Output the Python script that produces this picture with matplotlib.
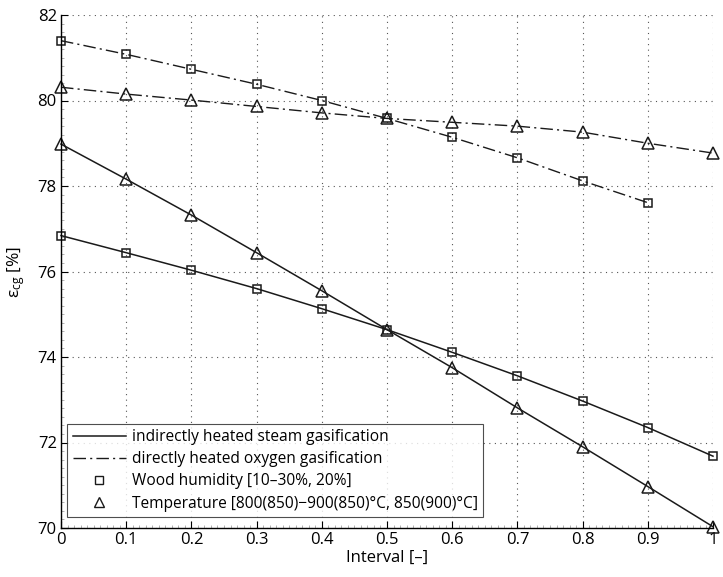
import matplotlib
matplotlib.use("Agg")
import matplotlib.pyplot as plt
from matplotlib.lines import Line2D
from matplotlib.ticker import MultipleLocator

plt.rcParams['font.family'] = ['Open Sans', 'DejaVu Sans']
plt.rcParams['mathtext.fontset'] = 'custom'
plt.rcParams['mathtext.rm'] = 'Open Sans'
plt.rcParams['mathtext.it'] = 'Open Sans'

interval = [0.0, 0.1, 0.2, 0.3, 0.4, 0.5, 0.6, 0.7, 0.8, 0.9, 1.0]
indirect_humidity = [76.84, 76.44, 76.03, 75.60, 75.13, 74.64, 74.11, 73.56, 72.97, 72.35, 71.68]
indirect_temperature = [78.98, 78.16, 77.32, 76.44, 75.55, 74.64, 73.75, 72.81, 71.90, 70.97, 70.03]
direct_humidity_x = [0.0, 0.1, 0.2, 0.3, 0.4, 0.5, 0.6, 0.7, 0.8, 0.9]
direct_humidity = [81.40, 81.08, 80.73, 80.38, 80.00, 79.58, 79.14, 78.66, 78.12, 77.61]
direct_temperature = [80.31, 80.15, 80.01, 79.86, 79.71, 79.58, 79.49, 79.40, 79.26, 79.00, 78.77]

xticks = [0, 0.1, 0.2, 0.3, 0.4, 0.5, 0.6, 0.7, 0.8, 0.9, 1]
xticklabels = ['0', '0.1', '0.2', '0.3', '0.4', '0.5', '0.6', '0.7', '0.8', '0.9', '1']
yticks = [70, 72, 74, 76, 78, 80, 82]

legend_labels = ['indirectly heated steam gasification',
                 'directly heated oxygen gasification',
                 'Wood humidity [10\u201330%, 20%]',
                 'Temperature [800(850)\u2212900(850)\u00b0C, 850(900)\u00b0C]']

fig = plt.figure(figsize=(7.23, 5.77), dpi=100)
ax = fig.add_axes([61/723, 1 - 528/577, (713-61)/723, (528-15)/577])

dashdot = (0, (9, 3, 1.5, 3))
col = '#1a1a1a'
mk = dict(markerfacecolor='none', markeredgecolor=col, markeredgewidth=1.1, clip_on=False)

ax.plot(interval, indirect_humidity, color=col, lw=1.1, marker='s', markersize=5.5, **mk)
ax.plot(interval, indirect_temperature, color=col, lw=1.1, marker='^', markersize=8, **mk)
ax.plot(direct_humidity_x, direct_humidity, color=col, lw=1.0, linestyle=dashdot, marker='s', markersize=5.5, **mk)
ax.plot(interval, direct_temperature, color=col, lw=1.0, linestyle=dashdot, marker='^', markersize=8, **mk)

ax.set_xlim(0, 1)
ax.set_ylim(70, 82)
ax.set_xticks(xticks)
ax.set_xticklabels(xticklabels)
ax.set_yticks(yticks)
ax.xaxis.set_minor_locator(MultipleLocator(0.01))
ax.yaxis.set_minor_locator(MultipleLocator(0.2))
ax.tick_params(which='major', direction='in', length=5, width=0.8, labelsize=12, pad=3)
ax.tick_params(which='minor', direction='in', length=2, width=0.4, color='#777777')
for s in ['top', 'right']:
    ax.spines[s].set_visible(False)
for s in ['left', 'bottom']:
    ax.spines[s].set_linewidth(1.0)
ax.grid(True, which='major', linestyle=(0, (1, 4)), color='#555555', linewidth=0.8)

ax.set_xlabel('Interval [\u2013]', fontsize=12, labelpad=1)
ax.set_ylabel(r'$\varepsilon_{\mathrm{cg}}$ [%]', fontsize=12.5)
ax.yaxis.set_label_coords(-0.052, 0.5)

handles = [
    Line2D([], [], color=col, lw=1.1),
    Line2D([], [], color=col, lw=1.0, linestyle=dashdot),
    Line2D([], [], color=col, lw=0, marker='s', markersize=5.5, markerfacecolor='none', markeredgecolor=col),
    Line2D([], [], color=col, lw=0, marker='^', markersize=7.5, markerfacecolor='none', markeredgecolor=col),
]
leg = ax.legend(handles, legend_labels, loc='lower left', bbox_to_anchor=(-0.002, 0.006),
                fontsize=11.2, frameon=True, fancybox=False, handlelength=3.4,
                borderpad=0.35, labelspacing=0.4, handletextpad=0.4, borderaxespad=0.5)
leg.get_frame().set_edgecolor('#222222')
leg.get_frame().set_linewidth(0.8)

fig.savefig('out.png', dpi=100)
